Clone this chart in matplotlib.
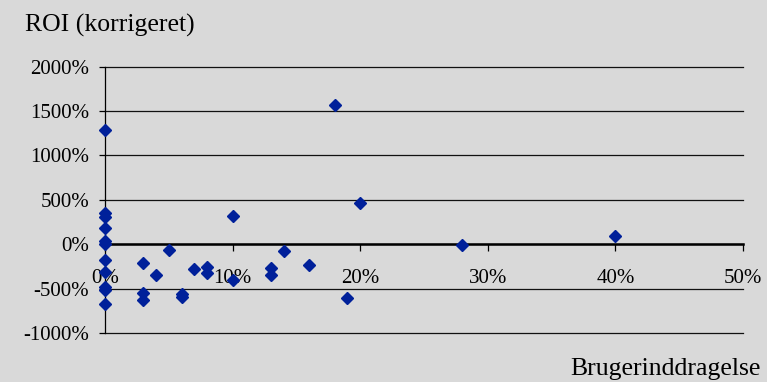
import matplotlib
matplotlib.use("Agg")
import matplotlib.pyplot as plt
from matplotlib.ticker import FuncFormatter

plt.rcParams['font.family'] = ['Liberation Serif', 'DejaVu Serif']
plt.rcParams['axes.unicode_minus'] = False

# brugerinddragelse (%) og korrigeret ROI (%)
bruger = [0, 0, 0, 0, 0, 0, 0, 0, 0, 0, 0,
          3, 3, 3, 4, 5, 6, 6, 7, 8, 8,
          10, 10, 13, 13, 14, 16, 18, 19, 20, 28, 40]
roi = [1290, 348, 310, 183, 40, 2, -178, -318, -487, -517, -675,
       -216, -555, -625, -348, -66, -562, -593, -280, -261, -325,
       314, -400, -269, -348, -81, -231, 1562, -607, 460, -6, 88]

y_ticks = [-1000, -500, 0, 500, 1000, 1500, 2000]
x_ticks = [0, 10, 20, 30, 40, 50]

bg = '#d9d9d9'
fig = plt.figure(figsize=(7.67, 3.82), dpi=100, facecolor=bg)
ax = fig.add_axes([105/767, 49/382, 638/767, 266.5/382], facecolor=bg)

ax.plot(bruger, roi, linestyle='none', marker='D', markersize=5.9,
        color='#00209a', zorder=5, clip_on=False)

ax.set_xlim(0, 50)
ax.set_ylim(-1000, 2000)
ax.set_xticks(x_ticks)
ax.set_yticks(y_ticks)
ax.xaxis.set_major_formatter(FuncFormatter(lambda v, p: f"{v:.0f}%"))
ax.yaxis.set_major_formatter(FuncFormatter(lambda v, p: f"{v:.0f}%"))

ax.grid(axis='y', color='#111111', linewidth=0.9)
ax.set_axisbelow(True)
for gl in ax.get_ygridlines():
    gl.set_clip_on(False)

for s in ['top', 'right']:
    ax.spines[s].set_visible(False)
ax.spines['bottom'].set_position(('data', 0))
ax.spines['bottom'].set_linewidth(1.8)
ax.spines['left'].set_linewidth(0.9)

ax.tick_params(axis='y', length=4.5, width=0.9, pad=7, labelsize=15)
ax.tick_params(axis='x', length=4.8, width=0.9, pad=13, labelsize=15)

fig.text(25/767, 1 - 32/382, "ROI (korrigeret)", fontsize=18.5, ha='left',
         va='baseline')
fig.text(761/767, 1 - 375/382, "Brugerinddragelse", fontsize=18.5, ha='right',
         va='baseline')

fig.savefig("out.png", dpi=100, facecolor=bg)
